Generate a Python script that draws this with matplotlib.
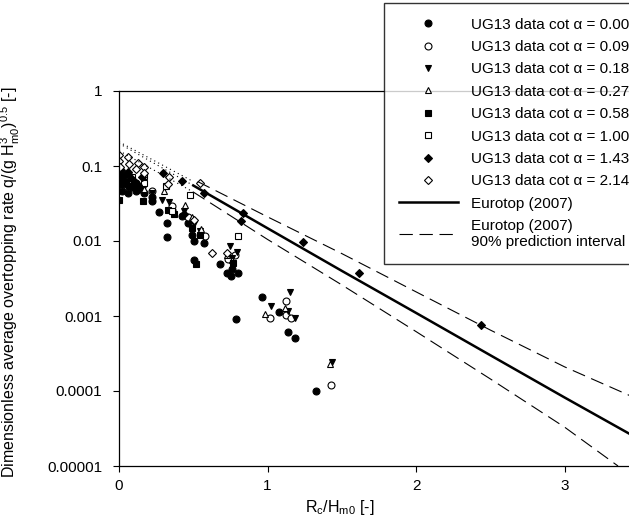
import matplotlib
matplotlib.use('Agg')
import matplotlib.pyplot as plt
import numpy as np

plt.rcParams['font.family'] = 'Liberation Sans'
plt.rcParams['mathtext.fontset'] = 'custom'
plt.rcParams['mathtext.rm'] = 'Liberation Sans'
plt.rcParams['mathtext.it'] = 'Liberation Sans'

# UG13 data (Rc/Hm0, dimensionless q)
x_000 = [0.008, 0.02, 0.062, 0.116, 0.17, 0.219, 0.219, 0.267, 0.321, 0.321, 0.36, 0.427, 0.467,
         0.508, 0.572, 0.494, 0.678, 0.726, 0.753, 0.764, 0.802, 0.961, 0.791, 1.080, 1.137, 1.188,
         1.329, 0.508, 0.04, 0.09, 0.14, 0.005]
y_000 = [0.064, 0.047, 0.044, 0.047, 0.044, 0.039, 0.034, 0.024, 0.0175, 0.0114, 0.026, 0.0216, 0.0175,
         0.010, 0.0093, 0.0122, 0.0049, 0.0037, 0.0034, 0.0042, 0.0038, 0.0018, 0.00092, 0.00114, 0.00062,
         0.00051, 0.0001, 0.0055, 0.058, 0.052, 0.050, 0.075]
x_009 = [0.003, 0.062, 0.116, 0.224, 0.36, 0.467, 0.581, 0.737, 0.778, 1.018, 1.123, 1.126, 1.158, 1.429]
y_009 = [0.086, 0.078, 0.060, 0.046, 0.029, 0.021, 0.0115, 0.0057, 0.0066, 0.00094, 0.00104, 0.0016,
         0.00094, 0.00012]
x_018 = [0.008, 0.057, 0.17, 0.224, 0.292, 0.338, 0.435, 0.508, 0.548, 0.745, 0.797, 0.764, 1.026,
         1.150, 1.137, 1.183, 1.437, 0.03, 0.1]
y_018 = [0.074, 0.060, 0.052, 0.043, 0.035, 0.033, 0.025, 0.0167, 0.0137, 0.0086, 0.0071, 0.006,
         0.00136, 0.0021, 0.00118, 0.00094, 0.00024, 0.068, 0.058]
x_027 = [0.003, 0.076, 0.17, 0.305, 0.446, 0.489, 0.554, 0.724, 0.759, 0.98, 1.12, 1.423]
y_027 = [0.064, 0.064, 0.050, 0.047, 0.030, 0.0212, 0.0146, 0.0065, 0.0055, 0.00106, 0.00128, 0.00023]
x_058 = [0.003, 0.008, 0.068, 0.162, 0.219, 0.327, 0.373, 0.491, 0.521, 0.548, 0.77, 0.02, 0.05]
y_058 = [0.035, 0.058, 0.054, 0.034, 0.035, 0.026, 0.023, 0.015, 0.005, 0.0122, 0.0051, 0.068, 0.062]
x_100 = [0.003, 0.089, 0.165, 0.17, 0.319, 0.481, 0.799, 0.36]
y_100 = [0.090, 0.072, 0.059, 0.074, 0.054, 0.041, 0.0117, 0.025]
x_143 = [0.003, 0.035, 0.103, 0.157, 0.294, 0.424, 0.57, 0.837, 0.821, 1.24, 1.618, 2.44, 0.13, 0.44,
         0.015, 0.06, 0.08]
y_143 = [0.078, 0.074, 0.064, 0.072, 0.081, 0.064, 0.044, 0.0237, 0.0185, 0.0098, 0.0038, 0.00075,
         0.055, 0.023, 0.088, 0.082, 0.070]
x_214 = [0.003, 0.003, 0.008, 0.062, 0.068, 0.13, 0.116, 0.165, 0.17, 0.335, 0.327, 0.543, 0.629,
         0.724, 0.508]
y_214 = [0.142, 0.118, 0.096, 0.131, 0.106, 0.108, 0.091, 0.096, 0.080, 0.072, 0.057, 0.059, 0.0069,
         0.0070, 0.019]

# Eurotop (2007) line and 90% prediction interval
x_mid = [0.5, 1.0, 1.5, 2.0, 2.5, 3.0, 3.45]
y_mid = [0.055, 0.0148, 0.0040, 0.0011, 0.00030, 8.2e-5, 2.6e-5]
x_up = [0.53, 1.0, 1.5, 2.0, 2.5, 3.0, 3.45]
y_up = [0.062, 0.021, 0.0068, 0.0021, 0.00065, 0.00021, 8.5e-5]
x_lo = [0.5, 1.0, 1.5, 2.0, 2.5, 3.0, 3.36]
y_lo = [0.045, 0.0105, 0.0026, 0.00062, 0.000145, 3.3e-5, 1.0e-5]
# dotted extension towards Rc/Hm0 = 0
x_dot = [0.0, 0.5]
y_dot_mid = [0.20, 0.055]
y_dot_up = [0.21, 0.062]
y_dot_lo = [0.16, 0.045]

yticks = [1, 0.1, 0.01, 0.001, 0.0001, 0.00001]
ytick_labels = ['1', '0.1', '0.01', '0.001', '0.0001', '0.00001']

fig = plt.figure(figsize=(6.29, 5.24), dpi=100)
ax = fig.add_axes([119/629, 58/524, 510/629, 375/524])

ms = 5
series = [
    (x_000, y_000, 'o', 'k', r'UG13 data cot α = 0.00'),
    (x_009, y_009, 'o', 'w', r'UG13 data cot α = 0.09'),
    (x_018, y_018, 'v', 'k', r'UG13 data cot α = 0.18'),
    (x_027, y_027, '^', 'w', r'UG13 data cot α = 0.27'),
    (x_058, y_058, 's', 'k', r'UG13 data cot α = 0.58'),
    (x_100, y_100, 's', 'w', r'UG13 data cot α = 1.00'),
    (x_143, y_143, 'D', 'k', r'UG13 data cot α = 1.43'),
    (x_214, y_214, 'D', 'w', r'UG13 data cot α = 2.14'),
]
for xs, ys, m, fc, lab in series:
    size = ms - 0.8 if m in ('D', 's') else ms
    ax.plot(xs, ys, ls='none', marker=m, mfc=fc, mec='k', mew=0.8, ms=size, label=lab)

ax.plot(x_mid, y_mid, color='k', lw=1.8, label='Eurotop (2007)')
ax.plot(x_up, y_up, color='k', lw=0.8, dashes=(12, 6),
        label='Eurotop (2007)\n90% prediction interval')
ax.plot(x_lo, y_lo, color='k', lw=0.8, dashes=(12, 6))
for yd in (y_dot_mid, y_dot_up, y_dot_lo):
    ax.plot(x_dot, yd, color='k', lw=0.8, ls=(0, (1, 3)))

ax.set_yscale('log')
ax.set_ylim(1e-5, 1)
ax.set_xlim(0, 3.434)
ax.set_yticks(yticks)
ax.set_yticklabels(ytick_labels)
ax.minorticks_off()
ax.set_xticks([0, 1, 2, 3])
ax.set_xticklabels(['0', '1', '2', '3'])
ax.tick_params(direction='out', length=4, width=0.8, labelsize=11)
ax.tick_params(axis='y', pad=8)
ax.tick_params(axis='x', pad=5)
ax.spines['right'].set_visible(False)
for s in ['left', 'bottom', 'top']:
    ax.spines[s].set_linewidth(0.9)

ax.set_xlabel(r'R$_\mathrm{c}$/H$_\mathrm{m0}$ [-]', fontsize=11.5)
ax.xaxis.set_label_coords(221/510, -0.085)
ax.set_ylabel(r'Dimensionless average overtopping rate q/(g H$^{3}_{\mathrm{m0}}$)$^{0.5}$ [-]',
              fontsize=11.5)
ax.yaxis.set_label_coords(-0.19, 0.49)

leg = fig.legend(loc='upper left', bbox_to_anchor=(384/629, 1 - 3/524), fontsize=11,
                 frameon=True, fancybox=False, edgecolor='k', borderaxespad=0,
                 handlelength=3.9, handletextpad=0.85, borderpad=0.95, labelspacing=0.55)
leg.get_frame().set_linewidth(1.0)

fig.savefig('out.png', dpi=100)
